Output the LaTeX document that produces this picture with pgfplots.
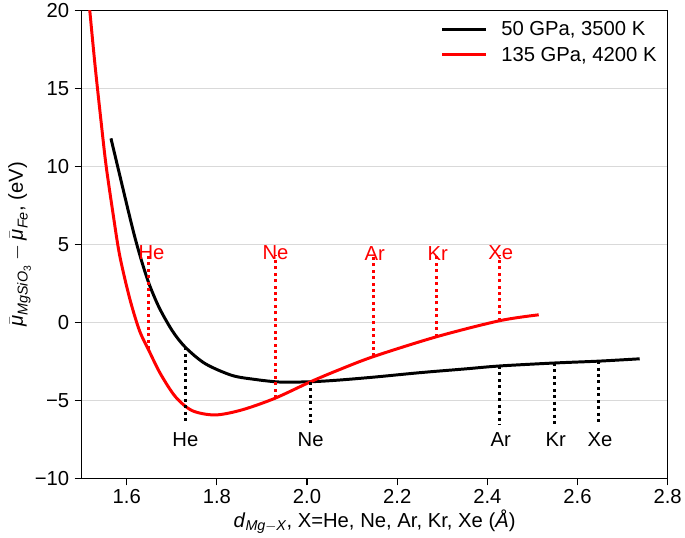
\documentclass[border=0pt]{standalone}
\usepackage{fontspec}
\setmainfont{Liberation Sans}
\usepackage{pgfplots}
\pgfplotsset{compat=1.18}
\newcommand\sub[1]{\mbox{\fontsize{14.5}{16}\selectfont\itshape #1}}
\newcommand\subsub[1]{\mbox{\fontsize{10.5}{12}\selectfont #1}}
\begin{document}
\begin{tikzpicture}[font=\fontsize{20.5}{24}\selectfont]
\begin{axis}[
  scale only axis, width=591bp, height=472bp,
  xmin=1.5, xmax=2.8, ymin=-10, ymax=20,
  xtick={1.6,1.8,2.0,2.2,2.4,2.6,2.8},
  xticklabels={1.6,1.8,2.0,2.2,2.4,2.6,2.8},
  ytick={-10,-5,0,5,10,15,20},
  yticklabels={−10,−5,0,5,10,15,20},
  tick label style={font=\fontsize{20.5}{24}\selectfont},
  yticklabel style={xshift=-2bp},
  label style={font=\fontsize{20.5}{24}\selectfont},
  tick align=outside, tick pos=left,
  major tick length=7bp,
  tick style={line width=1.1bp, black},
  ymajorgrids, grid style={black!15, line width=1bp},
  axis line style={line width=1.1bp},
  xlabel={\textit{d}$_{\sub{Mg}-\sub{X}}$, X=He, Ne, Ar, Kr, Xe (\textit{Å})},
  ylabel={$\bar{\mbox{\itshape μ}}_{\sub{MgSiO}_{\subsub{3}}} - \bar{\mbox{\itshape μ}}_{\sub{Fe}}$, (eV)},
  ylabel style={yshift=-3bp},
  legend style={at={(0.99,0.985)}, anchor=north east, draw=none, fill=white, row sep=6bp,
    font=\fontsize{20.5}{24}\selectfont},
  legend cell align=left,
  legend image code/.code={\draw[#1, line width=3bp] (0bp,0bp) -- (44bp,0bp); \path (56bp,0bp);},
  dotstyle/.style={line width=3bp, dash pattern=on 3bp off 3.5bp, forget plot},
]
\addplot[black, line width=3bp, smooth, tension=0.5] coordinates {
(1.565,11.8) (1.584,9.5) (1.606,6.85) (1.620,5.25) (1.635,3.75) (1.650,2.44) (1.672,0.95)
(1.701,-0.53) (1.730,-1.59) (1.774,-2.64) (1.833,-3.39) (1.884,-3.65) (1.94,-3.82)
(2.008,-3.80) (2.068,-3.70) (2.15,-3.50) (2.25,-3.22) (2.35,-2.98) (2.427,-2.79)
(2.548,-2.60) (2.647,-2.48) (2.738,-2.33)
};
\addlegendentry{50 GPa, 3500 K}
\addplot[red, line width=3bp, smooth, tension=0.5] coordinates {
(1.510,22.5) (1.518,20.0) (1.530,16.4) (1.543,12.9) (1.554,10.1) (1.569,7.1) (1.584,4.35)
(1.606,1.6) (1.628,-0.5) (1.650,-1.85) (1.675,-3.3) (1.708,-4.76) (1.745,-5.65)
(1.796,-5.93) (1.855,-5.61) (1.928,-4.87) (2.008,-3.80) (2.068,-3.07) (2.148,-2.18)
(2.288,-0.91) (2.427,0.11) (2.514,0.49)
};
\addlegendentry{135 GPa, 4200 K}
% red dotted markers
\addplot[red, dotstyle] coordinates {(1.648,-1.7) (1.648,4.3)};
\addplot[red, dotstyle] coordinates {(1.930,-4.85) (1.930,4.3)};
\addplot[red, dotstyle] coordinates {(2.148,-2.18) (2.148,4.3)};
\addplot[red, dotstyle] coordinates {(2.288,-0.91) (2.288,4.3)};
\addplot[red, dotstyle] coordinates {(2.427,0.11) (2.427,4.3)};
% black dotted markers
\addplot[black, dotstyle] coordinates {(1.730,-1.59) (1.730,-6.5)};
\addplot[black, dotstyle] coordinates {(2.008,-3.80) (2.008,-6.5)};
\addplot[black, dotstyle] coordinates {(2.427,-2.79) (2.427,-6.6)};
\addplot[black, dotstyle] coordinates {(2.548,-2.60) (2.548,-6.6)};
\addplot[black, dotstyle] coordinates {(2.647,-2.48) (2.647,-6.6)};
\node[red] at (axis cs:1.655,4.45) {He};
\node[red] at (axis cs:1.930,4.45) {Ne};
\node[red] at (axis cs:2.150,4.45) {Ar};
\node[red] at (axis cs:2.290,4.45) {Kr};
\node[red] at (axis cs:2.430,4.45) {Xe};
\node at (axis cs:1.730,-7.5) {He};
\node at (axis cs:2.008,-7.5) {Ne};
\node at (axis cs:2.430,-7.5) {Ar};
\node at (axis cs:2.552,-7.5) {Kr};
\node at (axis cs:2.650,-7.5) {Xe};
\end{axis}
\path ([xshift=-5bp]current axis.outer west);
\end{tikzpicture}
\end{document}
